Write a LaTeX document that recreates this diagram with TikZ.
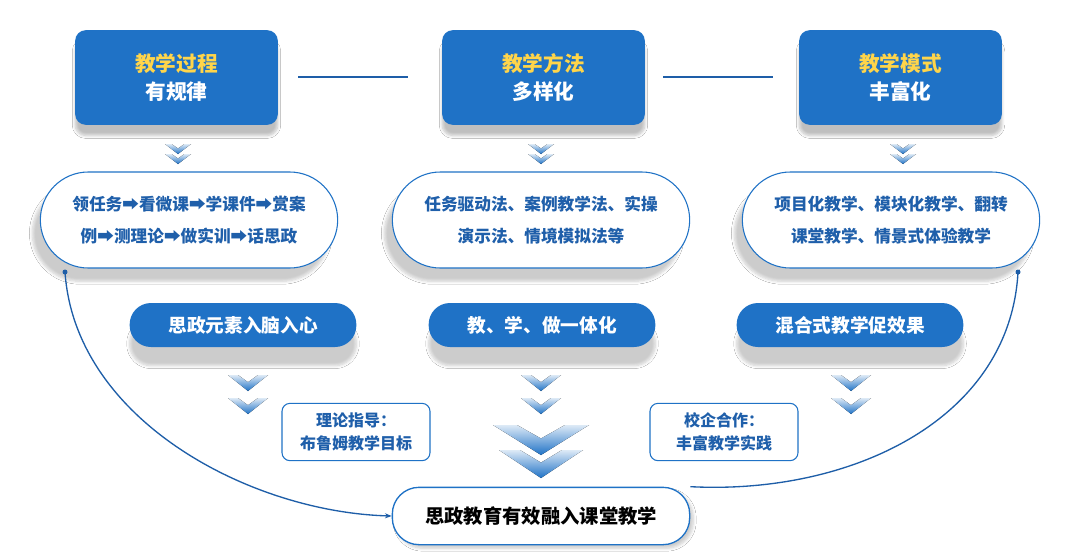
\documentclass[tikz,border=0pt]{standalone}
\usepackage{fontspec}
\setmainfont{Noto Sans CJK SC}
\usetikzlibrary{arrows.meta,shadows.blur}
\definecolor{mb}{HTML}{1F72C6}
\definecolor{db}{HTML}{1E5EA8}
\definecolor{tb}{HTML}{1F5FAA}
\definecolor{yl}{HTML}{FFD54A}
\tikzset{
 topbox/.style={fill=mb,rounded corners=8pt,minimum width=152pt,minimum height=71pt,align=center,font=\bfseries\fontsize{15.5}{21}\selectfont,text=white,inner sep=0pt,blur shadow={shadow blur steps=6,shadow xshift=0pt,shadow yshift=-8pt,shadow opacity=25}},
 midbox/.style={draw=mb,line width=0.8pt,fill=white,rounded corners=36pt,minimum width=223pt,minimum height=72pt,align=center,font=\bfseries\fontsize{12.5}{24}\selectfont,text=tb,inner sep=0pt,blur shadow={shadow blur steps=6,shadow xshift=-6pt,shadow yshift=-10pt,shadow opacity=20}},
 pill/.style={fill=mb,rounded corners=16pt,minimum width=170pt,minimum height=33pt,font=\bfseries\fontsize{14}{16}\selectfont,text=white,inner sep=0pt,blur shadow={shadow blur steps=6,shadow xshift=0pt,shadow yshift=-14pt,shadow opacity=20}},
 smallbox/.style={draw=mb,line width=0.8pt,fill=white,rounded corners=6pt,minimum width=111pt,minimum height=43pt,align=center,font=\bfseries\fontsize{12}{17}\selectfont,text=tb,inner sep=0pt},
 botbox/.style={draw=mb,line width=1pt,fill=white,rounded corners=20pt,minimum width=223pt,minimum height=43pt,font=\bfseries\fontsize{14.5}{16}\selectfont,text=black,inner sep=0pt,blur shadow={shadow blur steps=6,shadow opacity=20}},
 link/.style={db,line width=1.6pt},
 curve/.style={db,line width=1pt,-{Stealth[length=5pt]}},
}
\newcommand{\chev}[4]{% x y halfwidth depth
 \fill[top color=mb!15,bottom color=mb] (#1-#3,#2) -- (#1,#2+#4) -- (#1+#3,#2) -- (#1+0.5*#3,#2) -- (#1,#2+0.45*#4) -- (#1-0.5*#3,#2) -- cycle;
}
\begin{document}
\begin{tikzpicture}[x=0.75pt,y=-0.75pt]
\useasboundingbox[fill=white] (0,0) rectangle (1080,557);
\node[topbox] (t1) at (176.5,77.5) {{\color{yl}教学过程}\\有规律};
\node[topbox] (t2) at (543.5,77.5) {{\color{yl}教学方法}\\多样化};
\node[topbox] (t3) at (900.5,77.5) {{\color{yl}教学模式}\\丰富化};
\coordinate (l1a) at (298,77); \coordinate (l1b) at (408,77);
\coordinate (l2a) at (663,77); \coordinate (l2b) at (773,77);
\draw[link] (l1a) -- (l1b); \draw[link] (l2a) -- (l2b);
\foreach \x in {178,541,903}{\chev{\x}{144}{13}{10}\chev{\x}{154}{13}{10}}
\node[midbox] (m1) at (189,220) {领任务➡看微课➡学课件➡赏案\\例➡测理论➡做实训➡话思政};
\node[midbox] (m2) at (541,220) {任务驱动法、案例教学法、实操\\演示法、情境模拟法等};
\node[midbox] (m3) at (891,220) {项目化教学、模块化教学、翻转\\课堂教学、情景式体验教学};
\node[pill] (p1) at (243,325) {思政元素入脑入心};
\node[pill] (p2) at (542,325) {教、学、做一体化};
\node[pill] (p3) at (850,325) {混合式教学促效果};
\foreach \x in {248,541,851}{\chev{\x}{375}{20}{16}\chev{\x}{398}{20}{16}}
\chev{541}{425}{48}{30}\chev{541}{450}{42}{28}
\node[smallbox] (s1) at (356,432) {理论指导：\\布鲁姆教学目标};
\node[smallbox] (s2) at (724,432) {校企合作：\\丰富教学实践};
\node[botbox] (b) at (541,516) {思政教育有效融入课堂教学};
\coordinate (d1) at (65,272); \coordinate (d2) at (1018,272);
\fill[db] (d1) circle (2.5); \fill[db] (d2) circle (2.5);
\draw[curve] (d1) .. controls (75,420) and (250,512) .. (b.west);
\draw[db,line width=1pt] (d2) .. controls (1010,420) and (850,495) .. (b.north east);
\end{tikzpicture}
\end{document}
